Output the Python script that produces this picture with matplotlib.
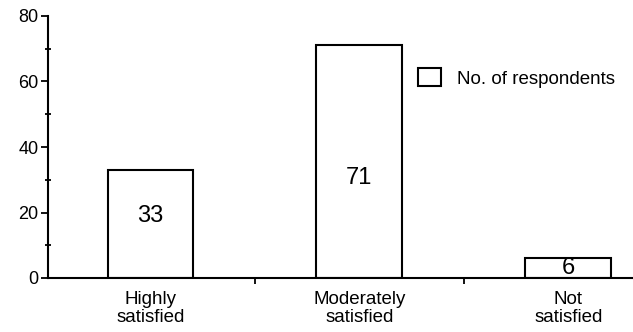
import matplotlib
matplotlib.use('Agg')
import matplotlib.pyplot as plt
from matplotlib.ticker import MultipleLocator, FixedLocator, NullFormatter

# data
categories = ['Highly\nsatisfied', 'Moderately\nsatisfied', 'Not\nsatisfied']
respondents = [33, 71, 6]
series_name = 'No. of respondents'

plt.rcParams['font.family'] = ['Liberation Sans', 'DejaVu Sans']

fig = plt.figure(figsize=(6.33, 3.32), dpi=100)
ax = fig.add_axes([48/633, 54/332, 1 - 48/633, 262/332])

x = range(len(categories))
bars = ax.bar(x, respondents, width=0.41, color='white', edgecolor='black',
              linewidth=1.5, label=series_name)

# value labels inside the bars (hand placed like the original)
label_y = [19, 30.5, 3]
for bar, v, ly in zip(bars, respondents, label_y):
    ax.text(bar.get_x() + bar.get_width()/2., ly, '%d' % v,
            ha='center', va='center', fontsize=17)

ax.set_xlim(-0.49, 2.31)
ax.set_ylim(0, 80)

ax.spines['top'].set_visible(False)
ax.spines['right'].set_visible(False)
for s in ['left', 'bottom']:
    ax.spines[s].set_linewidth(1.5)

# y axis
ax.yaxis.set_major_locator(MultipleLocator(20))
ax.yaxis.set_minor_locator(MultipleLocator(10))
ax.tick_params(axis='y', which='major', direction='out', length=5, width=1.3,
               labelsize=13, pad=2)
ax.tick_params(axis='y', which='minor', direction='inout', length=5, width=1.3)

# x axis: separator ticks between groups, labels on the categories
ax.xaxis.set_major_locator(FixedLocator([0.5, 1.5]))
ax.xaxis.set_major_formatter(NullFormatter())
ax.xaxis.set_minor_locator(FixedLocator(list(x)))
ax.set_xticklabels(categories, minor=True)
ax.tick_params(axis='x', which='major', direction='out', length=4, width=1.3)
ax.tick_params(axis='x', which='minor', length=0, labelsize=13.5, pad=9)
for t in ax.get_xticklabels(minor=True):
    t.set_linespacing(1.1)

ax.legend(loc='center left', bbox_to_anchor=(418/633, (332-78)/332),
          bbox_transform=fig.transFigure, frameon=False, borderpad=0,
          borderaxespad=0, handlelength=1.22, handleheight=1.06,
          handletextpad=0.85, fontsize=13.5)

fig.savefig('out.png', dpi=100)
